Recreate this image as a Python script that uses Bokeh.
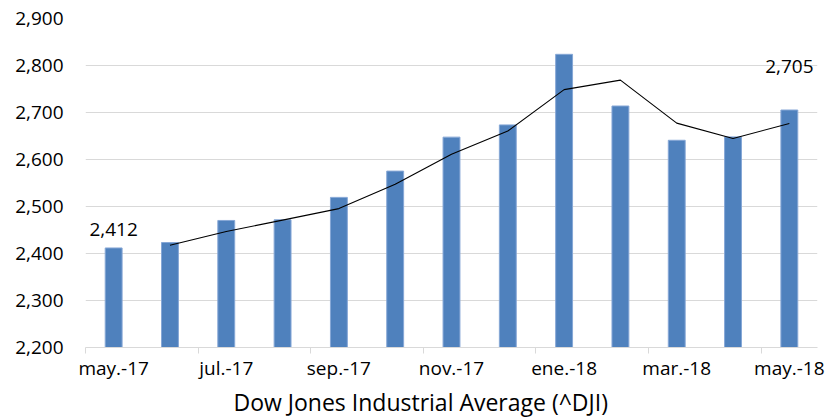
from bokeh.plotting import figure
from bokeh.models import FixedTicker, Label, Range1d, Title
from bokeh.embed import file_html
from bokeh.resources import INLINE

# ---- data ----
months = ["may.-17", "jun.-17", "jul.-17", "ago.-17", "sep.-17", "oct.-17", "nov.-17",
          "dic.-17", "ene.-18", "feb.-18", "mar.-18", "abr.-18", "may.-18"]
closes = [2411.8, 2423.4, 2470.3, 2471.7, 2519.4, 2575.3, 2647.6,
          2673.6, 2823.8, 2713.8, 2640.9, 2648.1, 2705.3]
# 2-period moving-average trendline (starts at second month)
trend = [None, 2417.6, 2446.9, 2471.0, 2495.5, 2547.3, 2611.4,
         2660.6, 2748.7, 2768.8, 2677.4, 2644.5, 2676.7]
y_ticks = [2200, 2300, 2400, 2500, 2600, 2700, 2800, 2900]
title_text = "Dow Jones Industrial Average (^DJI)"

FONT = "Open Sans"
n = len(months)
xs = [i + 0.5 for i in range(n)]

p = figure(width=827, height=417, x_range=Range1d(0, n), y_range=Range1d(y_ticks[0], y_ticks[-1]),
           output_backend="svg", toolbar_location=None,
           min_border_left=85, min_border_right=10, min_border_top=18, min_border_bottom=69)
p.outline_line_color = None
p.background_fill_color = "white"
p.border_fill_color = "white"

p.vbar(x=xs, top=closes, bottom=y_ticks[0], width=0.30, fill_color="#4f81bd",
       line_color="#86a7d6", line_width=1)

tx = [x for x, t in zip(xs, trend) if t is not None]
ty = [t for t in trend if t is not None]
p.line(tx, ty, line_color="black", line_width=1.1)

# x axis: labels at every other category centre, tick marks at category boundaries
xa = p.xaxis[0]
xa.ticker = FixedTicker(ticks=xs[::2], minor_ticks=list(range(0, n, 2)))
xa.major_label_overrides = {xs[i]: months[i] for i in range(0, n, 2)}
xa.major_tick_line_color = None
xa.major_tick_in = 0
xa.major_tick_out = 6
xa.minor_tick_line_color = "#d9d9d9"
xa.minor_tick_in = 0
xa.minor_tick_out = 6
xa.axis_line_color = "#d9d9d9"
xa.major_label_text_font = FONT
xa.major_label_text_font_size = "19px"
xa.major_label_text_color = "#000000"
xa.major_label_standoff = 1

ya = p.yaxis[0]
ya.ticker = FixedTicker(ticks=y_ticks, minor_ticks=[])
ya.major_label_overrides = {t: f"{t:,}" for t in y_ticks}
ya.axis_line_color = None
ya.major_tick_line_color = None
ya.minor_tick_line_color = None
ya.major_label_text_font = FONT
ya.major_label_text_font_size = "19px"
ya.major_label_text_color = "#000000"
ya.major_label_standoff = 16

p.xgrid.grid_line_color = None
p.ygrid.grid_line_color = "#d9d9d9"
p.ygrid.ticker = FixedTicker(ticks=y_ticks)

# data labels
p.add_layout(Label(x=xs[0], y=closes[0], y_offset=18, text=f"{closes[0]:,.0f}",
                   text_align="center", text_baseline="alphabetic",
                   text_font=FONT, text_font_size="19px", text_color="#000000"))
p.add_layout(Label(x=xs[-1], y=closes[-1], y_offset=44, text=f"{closes[-1]:,.0f}",
                   text_align="center", text_baseline="alphabetic",
                   text_font=FONT, text_font_size="19px", text_color="#000000"))

# bottom title
p.add_layout(Title(text=title_text, align="left", offset=148, standoff=0,
                   text_font=FONT, text_font_size="23px", text_font_style="normal",
                   text_color="#000000"), "below")

open("out.html", "w").write(file_html(p, INLINE))
